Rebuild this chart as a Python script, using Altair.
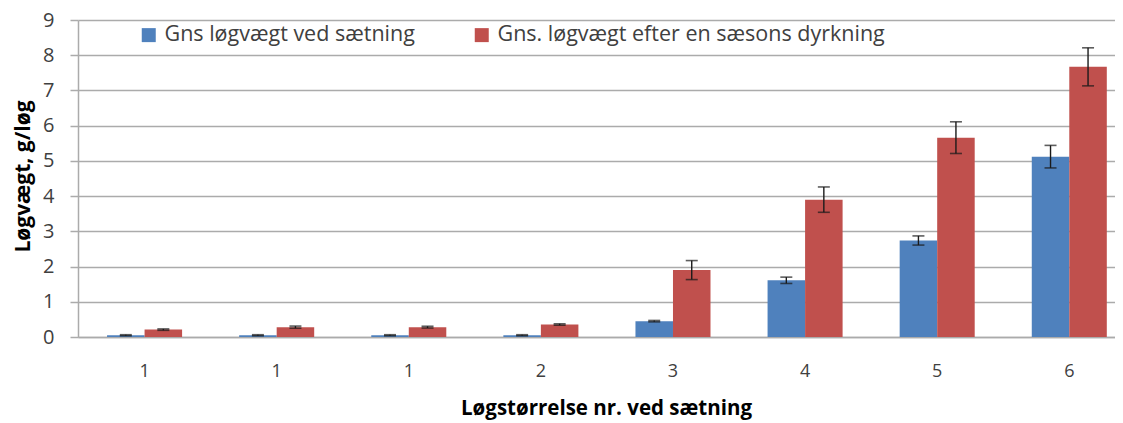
import json
import altair as alt
import pandas as pd

# ---- data ----
cat_ids = [0, 1, 2, 3, 4, 5, 6, 7]
cat_labels = ["1", "1", "1", "2", "3", "4", "5", "6"]
series_names = ["Gns løgvægt ved sætning", "Gns. løgvægt efter en sæsons dyrkning"]
blue_vals = [0.05, 0.05, 0.05, 0.05, 0.45, 1.61, 2.74, 5.12]
blue_err = [0.015, 0.015, 0.015, 0.015, 0.02, 0.09, 0.13, 0.32]
red_vals = [0.21, 0.28, 0.28, 0.355, 1.90, 3.90, 5.66, 7.67]
red_err = [0.02, 0.03, 0.025, 0.02, 0.27, 0.36, 0.45, 0.54]
colors = ["#4F81BD", "#C0504D"]
y_ticks = [0, 1, 2, 3, 4, 5, 6, 7, 8, 9]

rows = []
for vals, errs, name in [(blue_vals, blue_err, series_names[0]), (red_vals, red_err, series_names[1])]:
    for c, v, e in zip(cat_ids, vals, errs):
        rows.append({"cat": c, "series": name, "value": v, "lo": v - e, "hi": v + e})
df = pd.DataFrame(rows)

FONT = "Open Sans"
GRID = "#ABABAB"
label_expr = json.dumps(cat_labels) + "[datum.value]"

x_enc = alt.X(
    "cat:O",
    scale=alt.Scale(paddingInner=0.432, paddingOuter=0.141, align=0.78),
    axis=alt.Axis(
        labelExpr=label_expr, labelAngle=0, labelFont=FONT, labelFontSize=18,
        labelColor="#404040", ticks=False, tickSize=0, labelPadding=34,
        labelBaseline="middle", domain=True, domainColor=GRID, domainWidth=1.5,
        title="Løgstørrelse nr. ved sætning", titleFont=FONT, titleFontSize=20.5,
        titleFontWeight="bold", titleColor="#000000", titleX=528, titleY=71,
        titleBaseline="middle", titleAlign="center",
    ),
)
xoff = alt.XOffset("series:N", sort=series_names, scale=alt.Scale(paddingInner=0, paddingOuter=0))

y_scale = alt.Scale(domain=[0, 9], nice=False)
y_axis = alt.Axis(
    values=y_ticks, labelOverlap=False, grid=True, gridColor=GRID, gridWidth=1.5, domain=True,
    domainColor=GRID, domainWidth=1.5, tickColor=GRID, tickSize=8, tickWidth=1.5,
    labelFont=FONT, labelFontSize=20, labelColor="#404040", labelPadding=16,
    title="Løgvægt, g/løg", titleFont=FONT, titleFontSize=21, titleFontWeight="bold",
    titleColor="#000000", titleX=-55, titleY=156, titleAngle=270,
    titleBaseline="middle", titleAlign="center",
)

base = alt.Chart(df).encode(x=x_enc, xOffset=xoff)

bars = base.mark_bar().encode(
    y=alt.Y("value:Q", scale=y_scale, axis=y_axis),
    color=alt.Color(
        "series:N", sort=series_names,
        scale=alt.Scale(domain=series_names, range=colors),
        legend=alt.Legend(
            title=None, orient="none", legendX=60, legendY=4, direction="horizontal",
            symbolType="square", symbolSize=196, symbolStrokeWidth=0, symbolOpacity=1,
            labelFont=FONT, labelFontSize=21.5, labelColor="#404040", labelOffset=5,
            columnPadding=56, labelLimit=700,
        ),
    ),
)

rules = base.mark_rule(color="#1a1a1a", strokeWidth=1.4).encode(
    y=alt.Y("lo:Q", scale=y_scale, axis=y_axis), y2="hi:Q"
)
cap_lo = base.mark_tick(color="#1a1a1a", thickness=1.6, size=12, orient="horizontal").encode(
    y=alt.Y("lo:Q", scale=y_scale, axis=y_axis)
)
cap_hi = base.mark_tick(color="#1a1a1a", thickness=1.6, size=12, orient="horizontal").encode(
    y=alt.Y("hi:Q", scale=y_scale, axis=y_axis)
)

chart = (
    alt.layer(bars, rules, cap_lo, cap_hi)
    .properties(
        width=1037, height=317,
        autosize=alt.AutoSizeParams(type="none"),
        padding={"left": 70, "top": 12, "right": 0, "bottom": 84},
        background="white",
    )
    .configure_view(stroke=None)
)

chart.save("out.html", embed_options={"renderer": "svg", "actions": False})
